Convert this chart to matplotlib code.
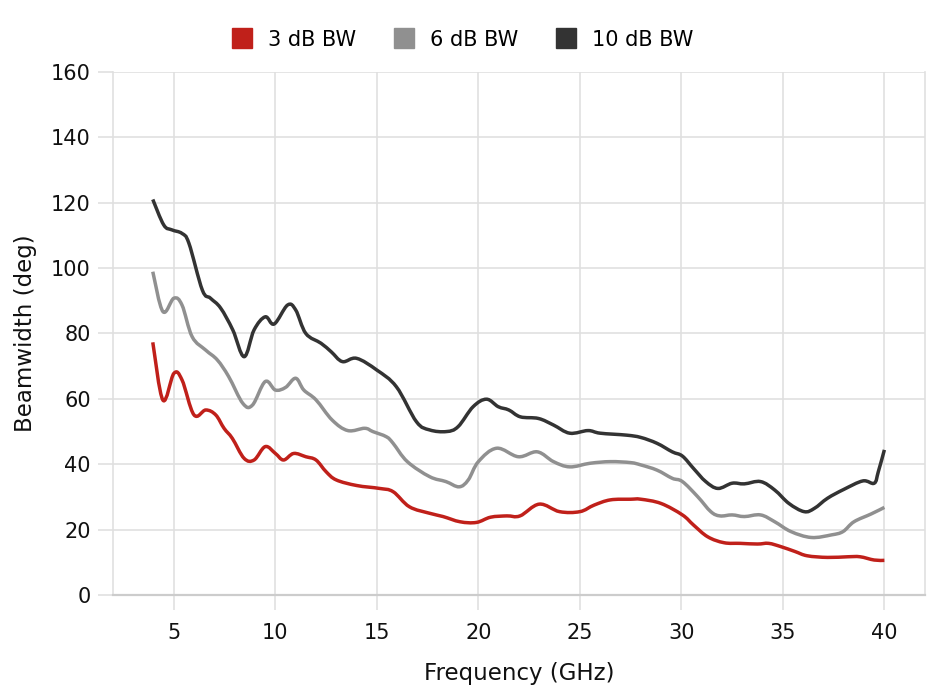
import numpy as np
import matplotlib
matplotlib.use('Agg')
import matplotlib.pyplot as plt
from matplotlib.path import Path
from matplotlib.patches import PathPatch
from matplotlib.lines import Line2D

# ============================================================
# Data
# ============================================================
freq_3db = [3.96, 4.46, 5.0, 5.4, 5.99, 6.57, 7.06, 7.47, 7.88, 8.46, 8.95, 9.5, 10.0,
            10.4, 10.9, 11.5, 12.0, 12.5, 13.0, 14.0, 15.13, 15.8, 16.6, 17.6, 18.26,
            19.1, 19.9, 20.6, 21.4, 22.05, 23.0, 24.0, 25.0, 25.7, 26.5, 27.5, 28.0,
            29.0, 30.05, 30.6, 31.3, 32.1, 32.9, 33.75, 34.3, 34.9, 35.6, 36.2, 37.2,
            38.2, 38.8, 39.5, 40.0]
bw_3db = [77.3, 59.6, 67.8, 65.8, 55.1, 56.6, 55.1, 51.0, 47.9, 41.8, 41.3, 45.4, 43.3,
          41.3, 43.3, 42.3, 41.3, 37.7, 35.2, 33.5, 32.6, 31.6, 27.0, 25.0, 24.0,
          22.4, 22.2, 23.8, 24.2, 24.2, 27.8, 25.5, 25.5, 27.5, 29.1, 29.3, 29.3,
          28.0, 24.5, 21.4, 17.8, 16.0, 15.8, 15.6, 15.8, 14.8, 13.3, 12.0, 11.5,
          11.7, 11.7, 10.7, 10.6]

freq_6db = [3.96, 4.46, 5.0, 5.4, 5.9, 6.57, 7.14, 7.7, 8.4, 8.87, 9.5, 10.0, 10.5,
            11.0, 11.4, 12.0, 12.8, 13.57, 14.4, 14.8, 15.47, 15.8, 16.5, 17.6, 18.4,
            19.05, 19.5, 20.0, 20.9, 21.97, 22.9, 23.7, 24.5, 25.5, 26.5, 27.5, 28.0,
            28.8, 29.55, 30.05, 30.8, 31.45, 31.9, 32.5, 33.1, 33.9, 34.6, 35.4, 36.4,
            37.4, 37.96, 38.5, 39.35, 40.0]
bw_6db = [98.9, 86.7, 90.8, 88.7, 79.0, 74.9, 71.9, 66.8, 58.6, 58.1, 65.3, 62.7, 63.5,
          66.3, 62.7, 59.7, 53.5, 50.3, 51.0, 50.0, 48.4, 46.4, 40.8, 36.2, 34.7,
          33.1, 35.2, 40.8, 44.9, 42.3, 43.8, 40.8, 39.2, 40.3, 40.8, 40.5, 39.8,
          38.2, 35.7, 34.7, 30.1, 25.5, 24.2, 24.5, 24.0, 24.5, 22.4, 19.4, 17.6,
          18.4, 19.4, 22.4, 24.8, 26.8]

freq_10db = [3.96, 4.5, 4.9, 5.4, 5.74, 6.4, 6.8, 7.3, 7.9, 8.46, 8.95, 9.5, 9.94,
             10.6, 11.0, 11.5, 12.25, 12.75, 13.3, 14.0, 15.0, 15.96, 16.95, 17.6, 18.43,
             19.0, 19.74, 20.4, 20.98, 21.5, 22.07, 22.96, 23.7, 24.5, 25.4, 26.0, 27.3,
             28.0, 28.8, 29.55, 30.05, 30.6, 31.2, 31.8, 32.5, 33.1, 33.9, 34.6, 35.3,
             36.05, 36.55, 37.2, 38.0, 38.94, 39.5, 39.7, 40.0]
bw_10db = [121.0, 113.2, 111.7, 110.6, 107.6, 93.3, 90.8, 87.8, 81.1, 72.9, 81.1, 85.1, 82.9,
           88.7, 87.2, 80.0, 77.0, 74.4, 71.4, 72.4, 68.8, 63.7, 53.0, 50.5, 50.0,
           51.5, 57.6, 59.9, 57.6, 56.6, 54.5, 54.0, 52.0, 49.5, 50.3, 49.5, 48.9,
           48.2, 46.4, 43.8, 42.5, 38.7, 34.7, 32.6, 34.2, 34.0, 34.7, 32.1, 28.0,
           25.5, 26.5, 29.6, 32.3, 34.9, 34.2, 37.7, 44.4]

labels = ['3 dB BW', '6 dB BW', '10 dB BW']
colors = ['#c0201a', '#909090', '#333333']

x_ticks = [5, 10, 15, 20, 25, 30, 35, 40]
y_ticks = [0, 20, 40, 60, 80, 100, 120, 140, 160]


def smooth_path(x, y, tension=0.35):
    """Curved path through the points (cubic Bezier, like a spline-tension line)."""
    x = np.asarray(x, float)
    y = np.asarray(y, float)
    verts = [(x[0], y[0])]
    codes = [Path.MOVETO]
    n = len(x)
    for i in range(n - 1):
        i0 = max(i - 1, 0)
        i3 = min(i + 2, n - 1)
        c1 = (x[i] + (x[i + 1] - x[i0]) * tension / 2,
              y[i] + (y[i + 1] - y[i0]) * tension / 2)
        c2 = (x[i + 1] - (x[i3] - x[i]) * tension / 2,
              y[i + 1] - (y[i3] - y[i]) * tension / 2)
        verts += [c1, c2, (x[i + 1], y[i + 1])]
        codes += [Path.CURVE4] * 3
    return Path(verts, codes)


# ============================================================
# Plot
# ============================================================
plt.rcParams['font.family'] = ['DejaVu Sans']
GRID = '#e0e0e0'
TXT = '#111111'

fig = plt.figure(figsize=(9.3, 6.96), dpi=100)
ax = fig.add_axes([0.1215, 0.1451, 0.8731, 0.7515])

series = [(freq_3db, bw_3db), (freq_6db, bw_6db), (freq_10db, bw_10db)]
for (f, bw), c in zip(series, colors):
    ax.add_patch(PathPatch(smooth_path(f, bw), facecolor='none', edgecolor=c,
                           lw=2.5, joinstyle='round', capstyle='butt', zorder=3))

ax.set_xlim(2, 42)
ax.set_ylim(0, 160)
ax.set_xticks(x_ticks)
ax.set_yticks(y_ticks)
ax.grid(True, color=GRID, lw=1.2, zorder=0)
ax.tick_params(axis='both', colors=GRID, labelcolor=TXT, labelsize=15,
               length=11, width=1.2)
ax.tick_params(axis='x', pad=9)
ax.tick_params(axis='y', pad=5)
for side in ['left', 'right']:
    ax.spines[side].set_color(GRID)
    ax.spines[side].set_linewidth(1.2)
ax.spines['top'].set_visible(False)
ax.spines['bottom'].set_color('#cccccc')
ax.spines['bottom'].set_linewidth(1.6)

ax.set_xlabel('Frequency (GHz)', fontsize=16.5, color=TXT, labelpad=14)
ax.set_ylabel('Beamwidth (deg)', fontsize=16.5, color=TXT, labelpad=10)

handles = [Line2D([], [], marker='s', ms=14, lw=0, color=c) for c in colors]
fig.legend(handles, labels, loc='center', bbox_to_anchor=(0.497, 0.943),
           ncol=3, frameon=False, fontsize=15, handlelength=1.0,
           handletextpad=0.75, columnspacing=1.8)

fig.savefig('out.png', dpi=100)
